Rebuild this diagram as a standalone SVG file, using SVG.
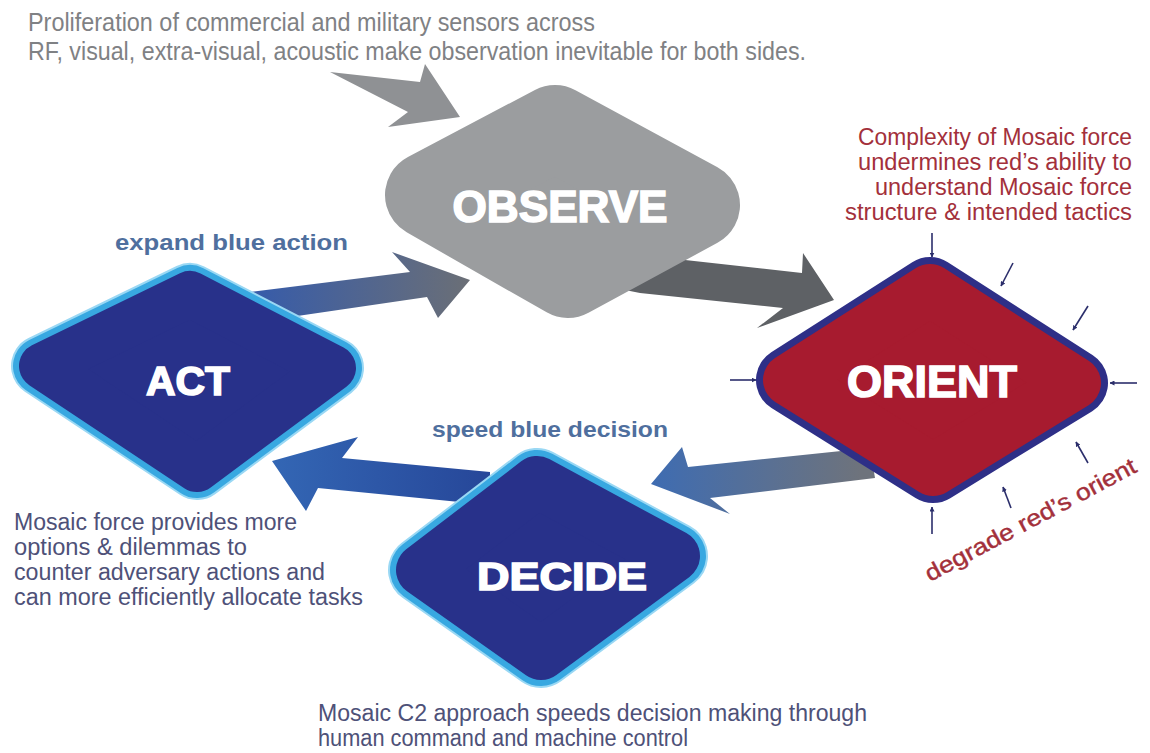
<svg xmlns="http://www.w3.org/2000/svg" width="1150" height="753" viewBox="0 0 1150 753">
  <defs>
    <style>
      .note { font-family: "Liberation Sans Narrow", "Liberation Sans", Arial, sans-serif; }
      .grey { fill: #7f8184; font-size: 25px; }
      .red { fill: #a3303b; font-size: 23px; }
      .slate { fill: #4e5178; font-size: 23.5px; }
      .tag { font-family: "Liberation Sans", Arial, sans-serif; font-weight: bold; fill: #4f6f9e; font-size: 22px; }
      .title { font-family: "Liberation Sans", Arial, sans-serif; font-weight: bold; fill: #ffffff; stroke: #ffffff; stroke-width: 1.6; text-anchor: middle; }
      .tick { stroke: #2b2e6b; stroke-width: 1.6; fill: none; marker-end: url(#tip); }
    </style>
    <marker id="tip" viewBox="0 0 10 10" refX="9" refY="5" markerWidth="5" markerHeight="5" orient="auto" markerUnits="userSpaceOnUse">
      <path d="M0,0 L10,5 L0,10 z" fill="#2b2e6b"/>
    </marker>
    <linearGradient id="g-act-obs" x1="260" y1="0" x2="470" y2="0" gradientUnits="userSpaceOnUse">
      <stop offset="0" stop-color="#385ca8"/>
      <stop offset="1" stop-color="#6b6f76"/>
    </linearGradient>
    <linearGradient id="g-ori-dec" x1="860" y1="0" x2="650" y2="0" gradientUnits="userSpaceOnUse">
      <stop offset="0" stop-color="#6e737c"/>
      <stop offset="1" stop-color="#3e6cb2"/>
    </linearGradient>
    <linearGradient id="g-dec-act" x1="480" y1="0" x2="275" y2="0" gradientUnits="userSpaceOnUse">
      <stop offset="0" stop-color="#27489a"/>
      <stop offset="1" stop-color="#3366b4"/>
    </linearGradient>
  </defs>

  <rect width="1150" height="753" fill="#ffffff"/>

  <!-- flow arrows between the four stages -->
  <g id="connectors">
    <polygon id="into-observe" points="330,72 420,82 425,64 460,117 388,127 408,112" fill="#8f9194"/>
    <polygon id="observe-orient" points="600,285 640,293 783,308 757,328 834,300 803,253 802,273 640,255" fill="#5e6165"/>
    <polygon id="orient-decide" points="870,448 688,467 682,447 651,484 730,514 710,498 875,478" fill="url(#g-ori-dec)"/>
    <polygon id="decide-act" points="272,461 358,437 342,458 490,472 490,505 318,488 306,511" fill="url(#g-dec-act)"/>
    <polygon id="act-observe" points="250,292 410,272 392,252 470,280 438,318 427,297 270,320" fill="url(#g-act-obs)"/>
  </g>

  <g id="observe">
    <polygon points="428,195 555,128 697,205 568,275" fill="#9b9d9f" stroke="#9b9d9f" stroke-width="86" stroke-linejoin="round"/>
    <text class="title" x="560" y="222" font-size="44" textLength="215" lengthAdjust="spacingAndGlyphs">OBSERVE</text>
  </g>

  <g id="act">
    <polygon points="42,366 190,294 333,368 197,469" fill="#9ad8f4" stroke="#9ad8f4" stroke-width="62" stroke-linejoin="round"/>
    <polygon points="42,366 190,294 333,368 197,469" fill="#38a8e1" stroke="#38a8e1" stroke-width="58" stroke-linejoin="round"/>
    <polygon points="42,366 190,294 333,368 197,469" fill="#28318a" stroke="#28318a" stroke-width="46" stroke-linejoin="round"/>
    <text class="title" x="188" y="395" font-size="40" textLength="84" lengthAdjust="spacingAndGlyphs">ACT</text>
  </g>

  <g id="decide">
    <polygon points="422,570 537,482 674,556 541,654" fill="#9ad8f4" stroke="#9ad8f4" stroke-width="68" stroke-linejoin="round"/>
    <polygon points="422,570 537,482 674,556 541,654" fill="#38a8e1" stroke="#38a8e1" stroke-width="64" stroke-linejoin="round"/>
    <polygon points="422,570 537,482 674,556 541,654" fill="#28318a" stroke="#28318a" stroke-width="52" stroke-linejoin="round"/>
    <text class="title" x="562" y="590" font-size="39" textLength="170" lengthAdjust="spacingAndGlyphs">DECIDE</text>
  </g>

  <g id="orient">
    <polygon points="789,380 930,290 1075,383 933,470" fill="#2e2f87" stroke="#2e2f87" stroke-width="66" stroke-linejoin="round"/>
    <polygon points="789,380 930,290 1075,383 933,470" fill="#a71b2f" stroke="#a71b2f" stroke-width="52" stroke-linejoin="round"/>
    <text class="title" x="932" y="397" font-size="45" textLength="170" lengthAdjust="spacingAndGlyphs">ORIENT</text>
  </g>

  <!-- pressure ticks pushing in on the orient stage -->
  <g id="orient-ticks">
    <line class="tick" x1="932" y1="233" x2="932" y2="257"/>
    <line class="tick" x1="1013" y1="263" x2="1001" y2="286"/>
    <line class="tick" x1="1088" y1="306" x2="1073" y2="330"/>
    <line class="tick" x1="1137" y1="383" x2="1110" y2="383"/>
    <line class="tick" x1="730" y1="380" x2="756" y2="380"/>
    <line class="tick" x1="1088" y1="463" x2="1076" y2="442"/>
    <line class="tick" x1="1011" y1="508" x2="1003" y2="487"/>
    <line class="tick" x1="932" y1="534" x2="932" y2="507"/>
  </g>

  <g id="notes">
    <text class="note grey" x="28" y="31" textLength="567" lengthAdjust="spacingAndGlyphs">Proliferation of commercial and military sensors across</text>
    <text class="note grey" x="28" y="60" textLength="778" lengthAdjust="spacingAndGlyphs">RF, visual, extra-visual, acoustic make observation inevitable for both sides.</text>

    <text class="note red" x="858" y="145" textLength="274" lengthAdjust="spacingAndGlyphs">Complexity of Mosaic force</text>
    <text class="note red" x="858" y="170" textLength="274" lengthAdjust="spacingAndGlyphs">undermines red’s ability to</text>
    <text class="note red" x="875" y="195" textLength="257" lengthAdjust="spacingAndGlyphs">understand Mosaic force</text>
    <text class="note red" x="845" y="220" textLength="287" lengthAdjust="spacingAndGlyphs">structure &amp; intended tactics</text>

    <text class="tag" x="115" y="250" textLength="233" lengthAdjust="spacingAndGlyphs">expand blue action</text>
    <text class="tag" x="432" y="437" textLength="236" lengthAdjust="spacingAndGlyphs">speed blue decision</text>

    <text class="note slate" x="14" y="530" textLength="283" lengthAdjust="spacingAndGlyphs">Mosaic force provides more</text>
    <text class="note slate" x="14" y="555" textLength="233" lengthAdjust="spacingAndGlyphs">options &amp; dilemmas to</text>
    <text class="note slate" x="14" y="580" textLength="311" lengthAdjust="spacingAndGlyphs">counter adversary actions and</text>
    <text class="note slate" x="14" y="605" textLength="349" lengthAdjust="spacingAndGlyphs">can more efficiently allocate tasks</text>

    <text class="note slate" x="318" y="721" textLength="549" lengthAdjust="spacingAndGlyphs">Mosaic C2 approach speeds decision making through</text>
    <text class="note slate" x="318" y="746" textLength="370" lengthAdjust="spacingAndGlyphs">human command and machine control</text>

    <text x="930" y="582" transform="rotate(-28 930 582)" font-family="Liberation Sans, Arial, sans-serif" font-size="23" fill="#a3303b" stroke="#a3303b" stroke-width="0.4" textLength="236" lengthAdjust="spacingAndGlyphs">degrade red’s orient</text>
  </g>
</svg>
